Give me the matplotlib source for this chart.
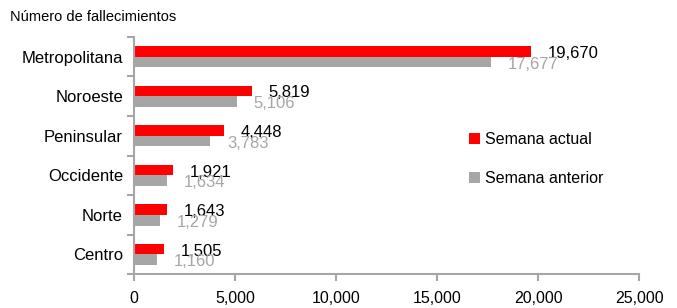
import matplotlib
matplotlib.use("Agg")
import numpy as np
from matplotlib import pyplot as plt
from matplotlib import font_manager as fm
from matplotlib.ticker import FuncFormatter, FixedLocator

regiones = ["Metropolitana", "Noroeste", "Peninsular", "Occidente", "Norte", "Centro"]
semana_actual = [19670, 5819, 4448, 1921, 1643, 1505]
semana_anterior = [17677, 5106, 3783, 1634, 1279, 1160]

names = {f.name for f in fm.fontManager.ttflist}
fam = "Liberation Sans Narrow" if "Liberation Sans Narrow" in names else "Liberation Sans"
plt.rcParams['font.family'] = [fam, 'DejaVu Sans']

red = "#ff0000"
grey = "#a6a6a6"

fig = plt.figure(figsize=(6.77, 3.08), dpi=100)
ax = fig.add_axes([0.198, 0.110, 0.746, 0.770])

y = np.arange(len(regiones))
h = 0.27
ax.barh(y - h / 2, semana_actual, height=h, color=red, label="Semana actual")
ax.barh(y + h / 2, semana_anterior, height=h, color=grey, label="Semana anterior")

# etiquetas de valor
for yi, v in zip(y, semana_actual):
    ax.annotate(f"{v:,}", (v, yi - h / 2), xytext=(12, -1.5), textcoords="offset points",
                va="center", ha="left", fontsize=12, color="black")
for yi, v in zip(y, semana_anterior):
    ax.annotate(f"{v:,}", (v, yi + h / 2), xytext=(12, -1.5), textcoords="offset points",
                va="center", ha="left", fontsize=12, color=grey)

ax.set_xlim(0, 25000)
ax.set_ylim(len(regiones) - 0.5, -0.5)
ax.set_xticks([0, 5000, 10000, 15000, 20000, 25000])
ax.xaxis.set_major_formatter(FuncFormatter(lambda v, p: f"{int(v):,}"))
ax.set_yticks(y)
ax.set_yticklabels(regiones)
ax.yaxis.set_minor_locator(FixedLocator(np.arange(-0.5, len(regiones), 1.0)))
ax.tick_params(axis="y", which="major", length=0, pad=8, labelsize=12)
ax.tick_params(axis="y", which="minor", length=5, width=1.5, color=grey)
ax.tick_params(axis="x", length=5, width=1.5, color=grey, labelsize=11.5, pad=7)

for s in ["top", "right"]:
    ax.spines[s].set_visible(False)
for s in ["left", "bottom"]:
    ax.spines[s].set_color(grey)
    ax.spines[s].set_linewidth(1.5)

ax.legend(loc="upper left", bbox_to_anchor=(0.635, 0.66), frameon=False, fontsize=11.5,
          handlelength=0.7, handleheight=0.7, handletextpad=0.3, labelspacing=1.5)

fig.text(0.015, 0.945, "Número de fallecimientos", fontsize=10.5, ha="left", va="center")

fig.savefig("out.png", dpi=100)
